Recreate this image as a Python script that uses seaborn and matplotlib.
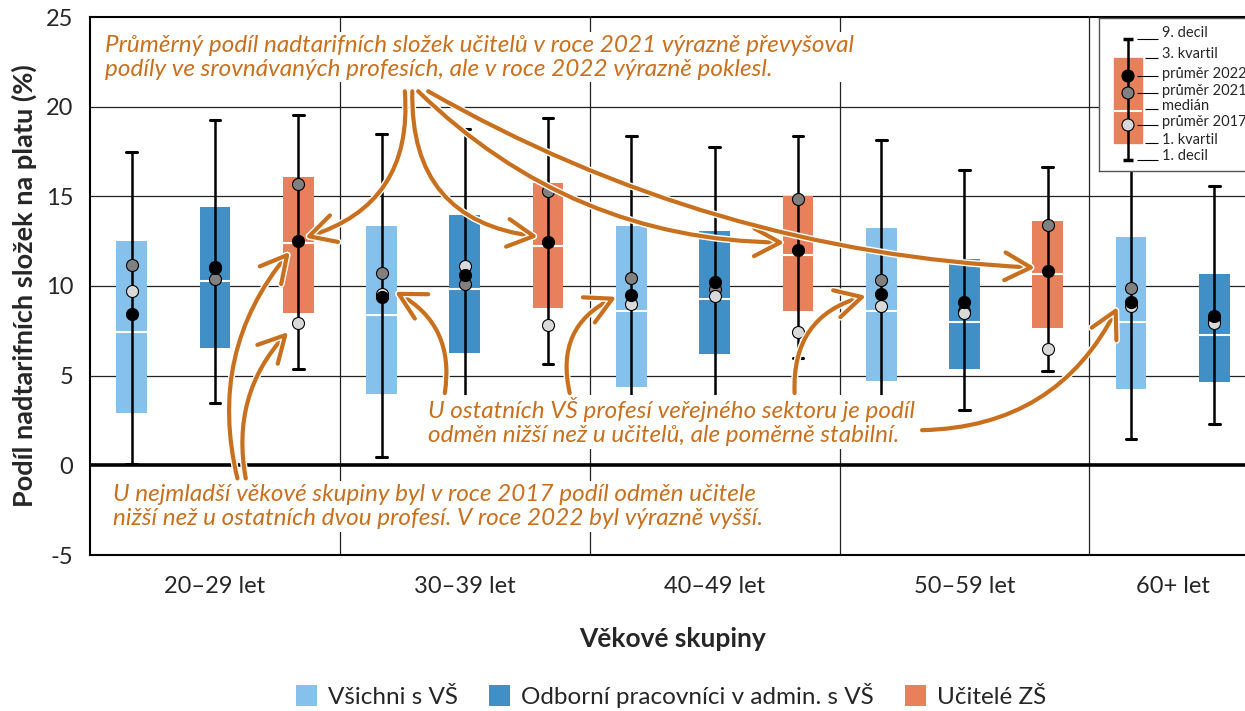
import numpy as np
import pandas as pd
import matplotlib
matplotlib.use('Agg')
import matplotlib.pyplot as plt
import matplotlib.patheffects as pe
from matplotlib.patches import Patch, Rectangle
import seaborn as sns

# --- data ---
vekove_skupiny = ['20–29 let', '30–39 let', '40–49 let', '50–59 let', '60+ let']
profese = ['Všichni s VŠ', 'Odborní pracovníci v admin. s VŠ', 'Učitelé ZŠ']

skupina = ['20–29 let'] * 3 + ['30–39 let'] * 3 + ['40–49 let'] * 3 + ['50–59 let'] * 3 + ['60+ let'] * 2
prof = profese * 4 + profese[:2]

decil_1 = [0.1, 3.49, 5.35, 0.47, 3.0, 5.65, 2.5, 3.2, 5.98, 2.0, 3.11, 5.26, 1.49, 2.29]
kvartil_1 = [2.93, 6.56, 8.52, 3.99, 6.28, 8.8, 4.38, 6.23, 8.58, 4.72, 5.35, 7.68, 4.23, 4.66]
median = [7.42, 10.29, 12.38, 8.39, 9.81, 12.25, 8.58, 9.3, 11.74, 8.63, 8.0, 10.66, 8.0, 7.27]
kvartil_3 = [12.53, 14.43, 16.1, 13.37, 13.98, 15.72, 13.37, 13.09, 15.04, 13.25, 11.5, 13.65, 12.71, 10.68]
decil_9 = [17.5, 19.24, 19.54, 18.46, 18.74, 19.35, 18.34, 17.75, 18.38, 18.14, 16.48, 16.63, 18.5, 15.55]
prumer_2017 = [9.73, 11.0, 7.96, 9.55, 11.13, 7.83, 9.0, 9.43, 7.46, 8.86, 8.52, 6.5, 8.86, 7.96]
prumer_2021 = [11.19, 10.4, 15.66, 10.72, 10.1, 15.29, 10.42, 9.82, 14.86, 10.33, 8.6, 13.4, 9.88, 8.1]
prumer_2022 = [8.43, 11.07, 12.49, 9.36, 10.61, 12.47, 9.51, 10.2, 12.02, 9.56, 9.13, 10.85, 9.13, 8.33]

df = pd.DataFrame({'skupina': skupina, 'profese': prof,
                   'd1': decil_1, 'q1': kvartil_1, 'med': median, 'q3': kvartil_3, 'd9': decil_9,
                   'm2017': prumer_2017, 'm2021': prumer_2021, 'm2022': prumer_2022})
df['pos'] = np.arange(len(df))

barvy = {'Všichni s VŠ': '#85C1EA', 'Odborní pracovníci v admin. s VŠ': '#408FC7', 'Učitelé ZŠ': '#E8805C'}
oranzova = '#C8701E'

sns.set_style('white')
plt.rcParams['font.family'] = ['Lato', 'DejaVu Sans']
plt.rcParams['axes.unicode_minus'] = False

fig = plt.figure(figsize=(12.45, 7.11), dpi=100)
ax = fig.add_axes([90 / 1245, 156 / 711, 1166 / 1245, 538 / 711])

# --- krabice (kvartily, decily, median) ---
stats = [dict(whislo=r.d1, q1=r.q1, med=r.med, q3=r.q3, whishi=r.d9, fliers=[]) for r in df.itertuples()]
bp = ax.bxp(stats, positions=df['pos'], widths=0.37, patch_artist=True, showfliers=False,
            boxprops=dict(linewidth=0), medianprops=dict(color='white', lw=1.5),
            whiskerprops=dict(color='black', lw=1.8), capprops=dict(color='black', lw=2.2),
            capwidths=0.13, manage_ticks=False)
for patch, p in zip(bp['boxes'], df['profese']):
    patch.set_facecolor(barvy[p])
    patch.set_edgecolor('none')
ax.vlines(df['pos'], df['q1'], df['q3'], color='black', lw=1.8, zorder=3)

# --- prumery ---
for sloupec, barva in [('m2021', '#808080'), ('m2017', '#D9D9D9'), ('m2022', 'black')]:
    sns.scatterplot(data=df, x='pos', y=sloupec, color=barva, s=75, edgecolor='black',
                    linewidth=0.8, zorder=4, ax=ax, legend=False)

# --- osy a mrizka ---
ax.set_xlim(-0.5, len(df) - 0.5)
ax.set_ylim(-5, 25)
ax.set_yticks(range(-5, 26, 5))
for y in range(5, 25, 5):
    ax.axhline(y, color='#222222', lw=0.9, zorder=1)
ax.axhline(0, color='black', lw=2.6, zorder=1.5)
stredy = df.groupby('skupina', sort=False)['pos'].mean()
hranice = df.groupby('skupina', sort=False)['pos'].max().values[:-1] + 0.5
for h in hranice:
    ax.axvline(h, color='#222222', lw=0.9, zorder=1)
ax.set_xticks(stredy.values)
ax.set_xticklabels(vekove_skupiny)
ax.tick_params(axis='both', length=0, labelsize=17)
ax.tick_params(axis='x', pad=15)
ax.tick_params(axis='y', pad=12)
for s in ['left', 'top', 'bottom']:
    ax.spines[s].set_color('black')
    ax.spines[s].set_linewidth(1.5)
ax.spines['right'].set_visible(False)
ax.set_xlabel('Věkové skupiny', fontsize=19, fontweight='bold', labelpad=22)
ax.set_ylabel('Podíl nadtarifních složek na platu (%)', fontsize=19.5, fontweight='bold', labelpad=6)

# --- komentare ---
txt = dict(color=oranzova, fontsize=17.5, style='italic', ha='left', va='top', zorder=7,
           linespacing=1.17, bbox=dict(facecolor='white', edgecolor='none', pad=2))
ax.text(-0.32, 24.0, 'Průměrný podíl nadtarifních složek učitelů v roce 2021 výrazně převyšoval\n'
        'podíly ve srovnávaných profesích, ale v roce 2022 výrazně poklesl.', **txt)
ax.text(3.56, 3.8, 'U ostatních VŠ profesí veřejného sektoru je podíl\n'
        'odměn nižší než u učitelů, ale poměrně stabilní.', **txt)
ax.text(-0.22, -1.05, 'U nejmladší věkové skupiny byl v roce 2017 podíl odměn učitele\n'
        'nižší než u ostatních dvou profesí. V roce 2022 byl výrazně vyšší.', **txt)

sipky = [((3.28, 20.86), (2.08, 12.70), -0.4),
         ((3.37, 20.86), (4.88, 12.75), 0.45),
         ((3.44, 20.86), (7.84, 12.42), 0.2),
         ((3.56, 20.86), (10.85, 11.02), 0.12),
         ((3.76, 4.03), (3.16, 9.68), 0.35),
         ((5.26, 4.03), (5.82, 9.40), -0.4),
         ((7.96, 4.03), (8.82, 9.45), -0.4),
         ((9.49, 1.96), (11.84, 8.84), 0.3),
         ((1.27, -0.73), (1.90, 11.91), -0.25),
         ((1.37, -0.73), (1.88, 7.44), -0.25)]
for start, konec, rad in sipky:
    ax.annotate('', xy=konec, xytext=start, zorder=6,
                arrowprops=dict(arrowstyle='->,head_length=0.75,head_width=0.4', color=oranzova,
                                lw=3, mutation_scale=25, shrinkA=0, shrinkB=0,
                                connectionstyle=f'arc3,rad={rad}',
                                path_effects=[pe.withStroke(linewidth=5, foreground='white')]))

# --- vysvetlivka vpravo nahore ---
ak = fig.add_axes([1099 / 1245, (711 - 171) / 711, 170 / 1245, 153 / 711])
ak.set_xlim(0, 170)
ak.set_ylim(153, 0)
ak.set_xticks([])
ak.set_yticks([])
for s in ak.spines.values():
    s.set_color('#555555')
    s.set_linewidth(1)
ak.add_patch(Rectangle((15, 40), 28, 85, color=barvy['Učitelé ZŠ']))
ak.hlines(93, 15, 43, color='white', lw=1.5)
ak.vlines(29, 21, 142, color='black', lw=1.8)
ak.hlines([21, 142], 24, 34, color='black', lw=2.5)
ak.scatter([29, 29, 29], [107, 75, 58], c=['#D9D9D9', '#808080', 'black'], s=75,
           edgecolors='black', linewidths=0.8, zorder=3)
popisky = ['9. decil', '3. kvartil', 'průměr 2022', 'průměr 2021', 'medián', 'průměr 2017', '1. kvartil', '1. decil']
cary_y = [21, 40, 58, 75, 91, 107, 125, 142]
cary_x0 = [38, 46, 38, 38, 46, 38, 46, 38]
text_y = [15, 36, 56, 73, 88, 104, 122, 138]
for p, cy, cx, ty in zip(popisky, cary_y, cary_x0, text_y):
    ak.hlines(cy, cx, 59, color='black', lw=0.8)
    ak.text(63, ty, p, fontsize=10.5, va='center', ha='left')

# --- legenda ---
handles = [Patch(facecolor=barvy[p], edgecolor='none', label=p) for p in profese]
fig.legend(handles=handles, loc='center', bbox_to_anchor=(0.539, 0.022), ncol=3, frameon=False,
           fontsize=17.5, handlelength=0.85, handleheight=1.0, columnspacing=1.3, handletextpad=0.45)

fig.savefig('out.png', dpi=100)
